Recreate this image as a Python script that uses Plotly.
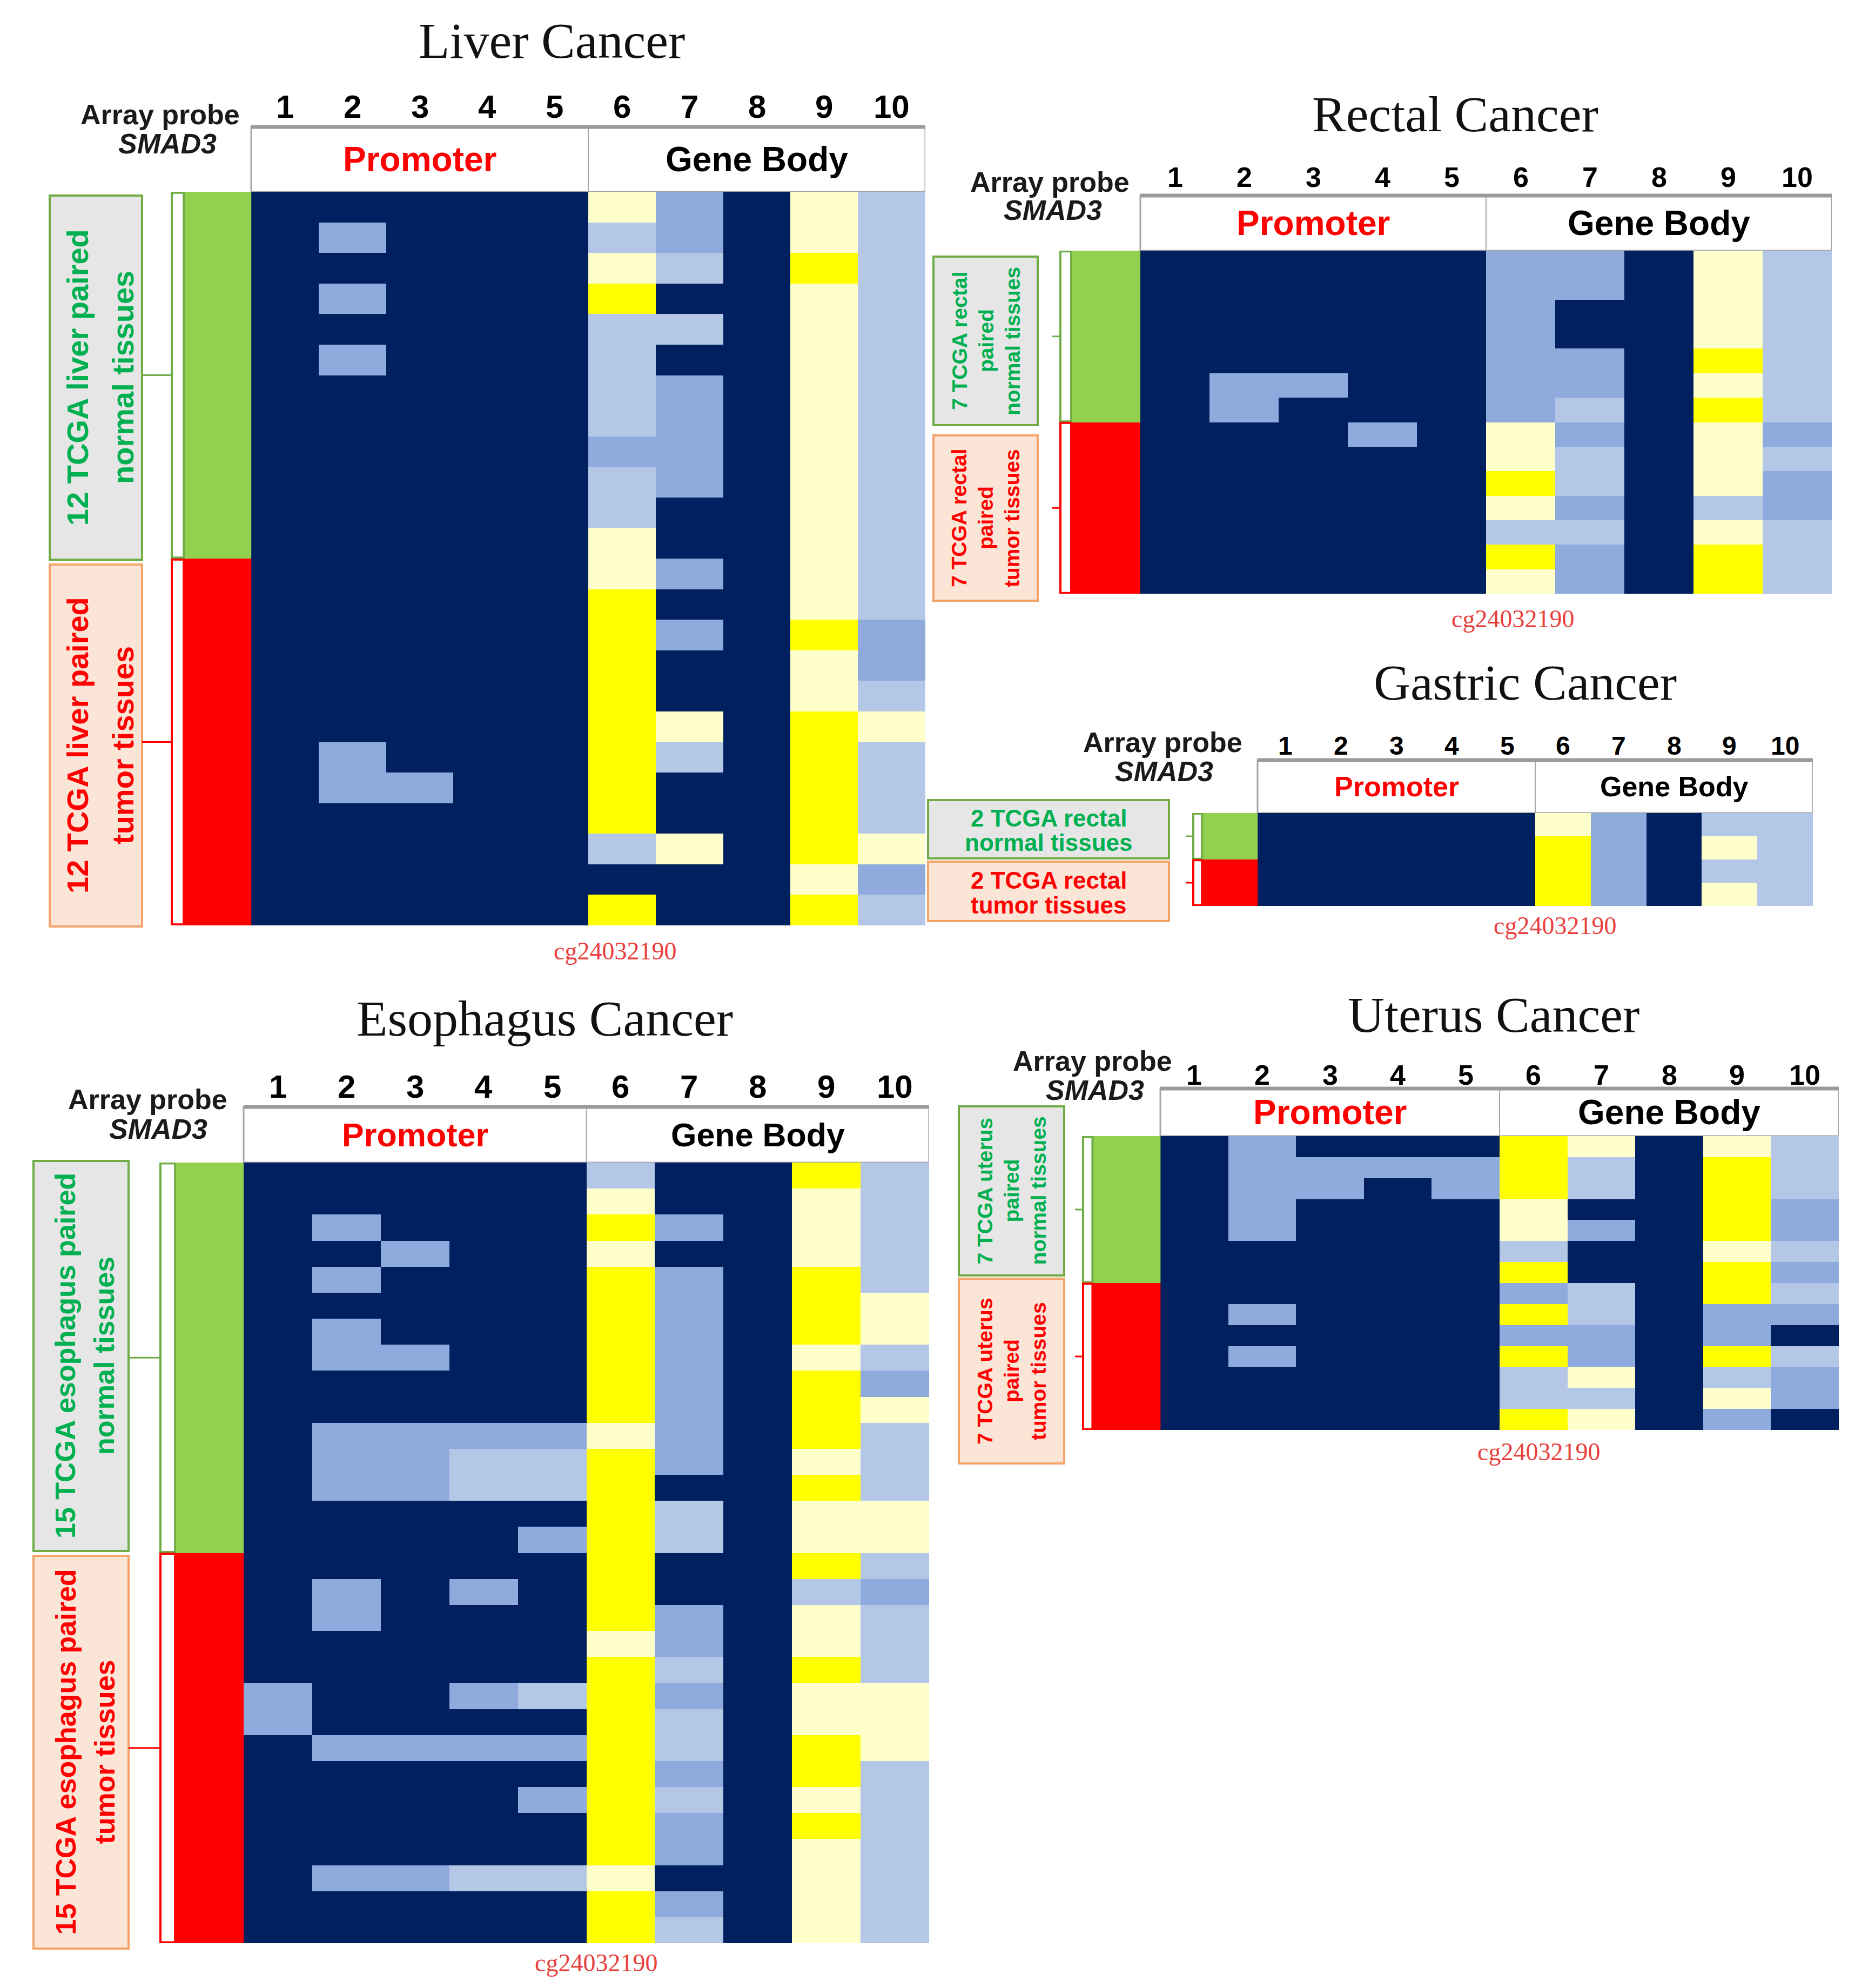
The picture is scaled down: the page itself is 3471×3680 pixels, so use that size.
import plotly.graph_objects as go

# ------------------------------------------------------------------ data
PROBES = ["1", "2", "3", "4", "5", "6", "7", "8", "9", "10"]
REGIONS = ["Promoter", "Gene Body"]
PROBE_ID = "cg24032190"
# methylation level codes: 0 navy, 1 medium blue, 2 light blue, 3 light yellow, 4 yellow
LEVEL_COLORS = ["#002060", "#8FAADC", "#B4C7E7", "#FFFFCC", "#FFFF00"]
GROUP_COLORS = ["#92D050", "#FF0000"]   # normal, tumor

# each panel: one list per probe (column), rows = samples (normal first, then tumor)
LIVER_COUNTS = [12, 12]
LIVER = [
    [0,0,0,0,0,0,0,0,0,0,0,0,0,0,0,0,0,0,0,0,0,0,0,0],
    [0,1,0,1,0,1,0,0,0,0,0,0,0,0,0,0,0,0,1,1,0,0,0,0],
    [0,0,0,0,0,0,0,0,0,0,0,0,0,0,0,0,0,0,0,1,0,0,0,0],
    [0,0,0,0,0,0,0,0,0,0,0,0,0,0,0,0,0,0,0,0,0,0,0,0],
    [0,0,0,0,0,0,0,0,0,0,0,0,0,0,0,0,0,0,0,0,0,0,0,0],
    [3,2,3,4,2,2,2,2,1,2,2,3,3,4,4,4,4,4,4,4,4,2,0,4],
    [1,1,2,0,2,0,1,1,1,1,0,0,1,0,1,0,0,3,2,0,0,3,0,0],
    [0,0,0,0,0,0,0,0,0,0,0,0,0,0,0,0,0,0,0,0,0,0,0,0],
    [3,3,4,3,3,3,3,3,3,3,3,3,3,3,4,3,3,4,4,4,4,4,3,4],
    [2,2,2,2,2,2,2,2,2,2,2,2,2,2,1,1,2,3,2,2,2,3,1,2],
]

RECTAL_COUNTS = [7, 7]
RECTAL = [
    [0,0,0,0,0,0,0,0,0,0,0,0,0,0],
    [0,0,0,0,0,1,1,0,0,0,0,0,0,0],
    [0,0,0,0,0,1,0,0,0,0,0,0,0,0],
    [0,0,0,0,0,0,0,1,0,0,0,0,0,0],
    [0,0,0,0,0,0,0,0,0,0,0,0,0,0],
    [1,1,1,1,1,1,1,3,3,4,3,2,4,3],
    [1,1,0,0,1,1,2,1,2,2,1,2,1,1],
    [0,0,0,0,0,0,0,0,0,0,0,0,0,0],
    [3,3,3,3,4,3,4,3,3,3,2,3,4,4],
    [2,2,2,2,2,2,2,1,2,1,1,2,2,2],
]

GASTRIC_COUNTS = [2, 2]
GASTRIC = [
    [0,0,0,0],
    [0,0,0,0],
    [0,0,0,0],
    [0,0,0,0],
    [0,0,0,0],
    [3,4,4,4],
    [1,1,1,1],
    [0,0,0,0],
    [2,3,2,3],
    [2,2,2,2],
]

ESOPHAGUS_COUNTS = [15, 15]
ESOPHAGUS = [
    [0,0,0,0,0,0,0,0,0,0,0,0,0,0,0,0,0,0,0,0,1,1,0,0,0,0,0,0,0,0],
    [0,0,1,0,1,0,1,1,0,0,1,1,1,0,0,0,1,1,0,0,0,0,1,0,0,0,0,1,0,0],
    [0,0,0,1,0,0,0,1,0,0,1,1,1,0,0,0,0,0,0,0,0,0,1,0,0,0,0,1,0,0],
    [0,0,0,0,0,0,0,0,0,0,1,2,2,0,0,0,1,0,0,0,1,0,1,0,0,0,0,2,0,0],
    [0,0,0,0,0,0,0,0,0,0,1,2,2,0,1,0,0,0,0,0,2,0,1,0,1,0,0,2,0,0],
    [2,3,4,3,4,4,4,4,4,4,3,4,4,4,4,4,4,4,3,4,4,4,4,4,4,4,4,3,4,4],
    [0,0,1,0,1,1,1,1,1,1,1,1,0,2,2,0,0,1,1,2,1,2,2,1,2,1,1,0,1,2],
    [0,0,0,0,0,0,0,0,0,0,0,0,0,0,0,0,0,0,0,0,0,0,0,0,0,0,0,0,0,0],
    [4,3,3,3,4,4,4,3,4,4,4,3,4,3,3,4,2,3,3,4,3,3,4,4,3,4,3,3,3,3],
    [2,2,2,2,2,3,3,2,1,3,2,2,2,3,3,2,1,2,2,2,3,3,3,2,2,2,2,2,2,2],
]

UTERUS_COUNTS = [7, 7]
UTERUS = [
    [0,0,0,0,0,0,0,0,0,0,0,0,0,0],
    [1,1,1,1,1,0,0,0,1,0,1,0,0,0],
    [0,1,1,0,0,0,0,0,0,0,0,0,0,0],
    [0,1,0,0,0,0,0,0,0,0,0,0,0,0],
    [0,1,1,0,0,0,0,0,0,0,0,0,0,0],
    [4,4,4,3,3,2,4,1,4,1,4,2,2,4],
    [3,2,2,0,1,0,0,2,2,1,1,3,2,3],
    [0,0,0,0,0,0,0,0,0,0,0,0,0,0],
    [3,4,4,4,4,3,4,4,1,1,4,2,3,1],
    [2,2,2,1,1,2,1,2,1,0,2,1,1,0],
]

# ------------------------------------------------------------------ layout config (pixels)
W, H = 3471, 3680
PAGE_OFFSET = 8          # default body margin of the html page
SANS = "Liberation Sans, Arial, sans-serif"
SERIF = "Liberation Serif, Times New Roman, serif"

PANELS = [
    dict(title="Liver Cancer", cols=LIVER, counts=LIVER_COUNTS, rotated=True,
         normal=["12 TCGA liver paired", "normal tissues"], tumor=["12 TCGA liver paired", "tumor tissues"],
         hx=(465, 1713), hy=(355, 1713), head_top=235, num_y=198, num_size=60,
         hdr_size=64, ap=(296, 212), smad=(310, 266), title_xy=(1021, 75), cg_y=1760, cg_shift=-13,
         box_x=(92, 263), green_y=(362, 1036), red_y=(1045, 1715), br_x=318, conn_x=263,
         lab_size=56, lab_x=[143, 227]),
    dict(title="Rectal Cancer", cols=RECTAL, counts=RECTAL_COUNTS, rotated=True,
         normal=["7 TCGA rectal", "paired", "normal tissues"], tumor=["7 TCGA rectal", "paired", "tumor tissues"],
         hx=(2111, 3391), hy=(464, 1099), head_top=362, num_y=328, num_size=52,
         hdr_size=64, ap=(1944, 337), smad=(1949, 389), title_xy=(2694, 211), cg_y=1145, cg_shift=-15,
         box_x=(1728, 1921), green_y=(475, 787), red_y=(806, 1112), br_x=1963, conn_x=1948,
         lab_size=39, lab_x=[1776, 1825, 1874]),
    dict(title="Gastric Cancer", cols=GASTRIC, counts=GASTRIC_COUNTS, rotated=False,
         normal=["2 TCGA rectal", "normal tissues"], tumor=["2 TCGA rectal", "tumor tissues"],
         hx=(2328, 3356), hy=(1505, 1677), head_top=1407, num_y=1380, num_size=48,
         hdr_size=52, ap=(2152, 1374), smad=(2155, 1428), title_xy=(2823, 1263), cg_y=1713, cg_shift=-15,
         box_x=(1718, 2164), green_y=(1481, 1589), red_y=(1595, 1705), br_x=2209, conn_x=2195,
         lab_size=44, lab_x=None),
    dict(title="Esophagus Cancer", cols=ESOPHAGUS, counts=ESOPHAGUS_COUNTS, rotated=True,
         normal=["15 TCGA esophagus paired", "normal tissues"], tumor=["15 TCGA esophagus paired", "tumor tissues"],
         hx=(451, 1720), hy=(2152, 3597), head_top=2049, num_y=2011, num_size=60,
         hdr_size=61, ap=(273, 2035), smad=(293, 2090), title_xy=(1009, 1885), cg_y=3633, cg_shift=-45,
         box_x=(62, 238), green_y=(2149, 2871), red_y=(2880, 3607), br_x=297, conn_x=238,
         lab_size=52, lab_x=[121, 193]),
    dict(title="Uterus Cancer", cols=UTERUS, counts=UTERUS_COUNTS, rotated=True,
         normal=["7 TCGA uterus", "paired", "normal tissues"], tumor=["7 TCGA uterus", "paired", "tumor tissues"],
         hx=(2148, 3404), hy=(2103, 2647), head_top=2015, num_y=1990, num_size=52,
         hdr_size=64, ap=(2022, 1964), smad=(2027, 2018), title_xy=(2765, 1878), cg_y=2687, cg_shift=10,
         box_x=(1775, 1970), green_y=(2048, 2361), red_y=(2367, 2709), br_x=2005, conn_x=1990,
         lab_size=39, lab_x=[1823, 1872, 1922]),
]

BOX_STYLE = [dict(fill="#E7E6E6", line="#70AD47", text="#00B050"),
             dict(fill="#FBE5D6", line="#F4A36B", text="#FF0000")]


def fx(x):
    return (x - PAGE_OFFSET) / W


def fy(y):
    return 1 - (y - PAGE_OFFSET) / H


anns = []


def note(text, x, y, font, xref="paper", yref="paper", angle=0, xshift=0):
    anns.append(dict(xref=xref, yref=yref, x=x, y=y, text=text, showarrow=False, xshift=xshift,
                     xanchor="center", yanchor="middle", textangle=angle, font=font))


# discrete colour scale: codes 0..4 methylation, 5 normal group, 6 tumor group
ALL_COLORS = LEVEL_COLORS + GROUP_COLORS
NC = len(ALL_COLORS)
colorscale = []
for k, c in enumerate(ALL_COLORS):
    colorscale.append([k / NC, c])
    colorscale.append([(k + 1) / NC, c])

fig = go.Figure()
shapes = []
layout_axes = {}

for i, p in enumerate(PANELS, start=1):
    xa = "x" if i == 1 else f"x{i}"
    ya = "y" if i == 1 else f"y{i}"
    x0, x1 = p["hx"]
    y0, y1 = p["hy"]
    cw = (x1 - x0) / len(PROBES)
    rows = [list(r) for r in zip(*p["cols"])]
    n = len(rows)
    nn, nt = p["counts"]

    fig.add_trace(go.Heatmap(z=rows, x=list(range(len(PROBES) + 1)), y=list(range(n + 1)),
                             colorscale=colorscale, zmin=-0.5, zmax=NC - 0.5, showscale=False,
                             xaxis=xa, yaxis=ya, hoverinfo="skip"))
    grp = [[len(LEVEL_COLORS)]] * nn + [[len(LEVEL_COLORS) + 1]] * nt
    fig.add_trace(go.Heatmap(z=grp, x=[-1, 0], y=list(range(n + 1)),
                             colorscale=colorscale, zmin=-0.5, zmax=NC - 0.5, showscale=False,
                             xaxis=xa, yaxis=ya, hoverinfo="skip"))

    axname = "xaxis" if i == 1 else f"xaxis{i}"
    ayname = "yaxis" if i == 1 else f"yaxis{i}"
    layout_axes[axname] = dict(domain=[fx(x0 - cw), fx(x1)], range=[-1, len(PROBES)],
                               visible=False, fixedrange=True)
    layout_axes[ayname] = dict(domain=[fy(y1), fy(y0)], range=[n, 0], visible=False, fixedrange=True)

    # header box
    shapes.append(dict(type="rect", xref=xa, yref="paper", x0=0, x1=len(PROBES),
                       y0=fy(y0), y1=fy(p["head_top"]), line=dict(color="#A6A6A6", width=3),
                       fillcolor="white", layer="below"))
    shapes.append(dict(type="line", xref=xa, yref="paper", x0=5, x1=5,
                       y0=fy(y0), y1=fy(p["head_top"]), line=dict(color="#A6A6A6", width=2)))
    shapes.append(dict(type="line", xref=xa, yref="paper", x0=0, x1=len(PROBES),
                       y0=fy(p["head_top"]), y1=fy(p["head_top"]), line=dict(color="#9A9A9A", width=7)))
    hmid = fy((p["head_top"] + y0) / 2)
    note(REGIONS[0], 2.5, hmid, dict(family=SANS, size=p["hdr_size"], color="#FF0000", weight="bold"), xref=xa)
    note(REGIONS[1], 7.5, hmid, dict(family=SANS, size=p["hdr_size"], color="black", weight="bold"), xref=xa)

    # probe numbers
    for c, lab in enumerate(PROBES):
        note(lab, c + 0.5, fy(p["num_y"]), dict(family=SANS, size=p["num_size"], color="black", weight="bold"),
             xref=xa)

    # Array probe / SMAD3
    note("Array probe", fx(p["ap"][0]), fy(p["ap"][1]), dict(family=SANS, size=52, color="#1a1a1a", weight="bold"))
    note("SMAD3", fx(p["smad"][0]), fy(p["smad"][1]),
         dict(family=SANS, size=52, color="#1a1a1a", weight="bold", style="italic"))
    # title
    note(p["title"], fx(p["title_xy"][0]), fy(p["title_xy"][1]), dict(family=SERIF, size=94, color="#111111"))
    # probe id under probe 6
    note(PROBE_ID, 5.5, fy(p["cg_y"]), dict(family=SERIF, size=46, color="#E8403C"), xref=xa,
         xshift=p["cg_shift"])

    # group label boxes, brackets, connectors
    bar_left = x0 - cw
    for g, (gy, lines, start, cnt) in enumerate([(p["green_y"], p["normal"], 0, nn),
                                                  (p["red_y"], p["tumor"], nn, nt)]):
        st = BOX_STYLE[g]
        bx0, bx1 = p["box_x"]
        shapes.append(dict(type="rect", xref="paper", yref="paper", x0=fx(bx0), x1=fx(bx1),
                           y0=fy(gy[1]), y1=fy(gy[0]), fillcolor=st["fill"],
                           line=dict(color=st["line"], width=4)))
        lfont = dict(family=SANS, size=p["lab_size"], color=st["text"], weight="bold")
        if p["rotated"]:
            for li, txt in enumerate(lines):
                note(txt, fx(p["lab_x"][li]), fy((gy[0] + gy[1]) / 2), lfont, angle=-90)
        else:
            hgt = gy[1] - gy[0]
            for li, txt in enumerate(lines):
                note(txt, fx((bx0 + bx1) / 2), fy(gy[0] + hgt * (0.31 + 0.42 * li)), lfont)
        bcol = GROUP_COLORS[g] if g == 1 else "#70AD47"
        shapes.append(dict(type="rect", xref="paper", yref=ya, x0=fx(p["br_x"]), x1=fx(bar_left),
                           y0=start + 0.03, y1=start + cnt - 0.03, fillcolor="white",
                           line=dict(color=bcol, width=4)))
        shapes.append(dict(type="line", xref="paper", yref=ya, x0=fx(p["conn_x"]), x1=fx(p["br_x"]),
                           y0=start + cnt / 2, y1=start + cnt / 2, line=dict(color=bcol, width=3)))

fig.update_layout(width=W, height=H, margin=dict(l=0, r=0, t=0, b=0),
                  paper_bgcolor="white", plot_bgcolor="white", showlegend=False,
                  shapes=shapes, annotations=anns, **layout_axes)

fig.write_html("out.html")
